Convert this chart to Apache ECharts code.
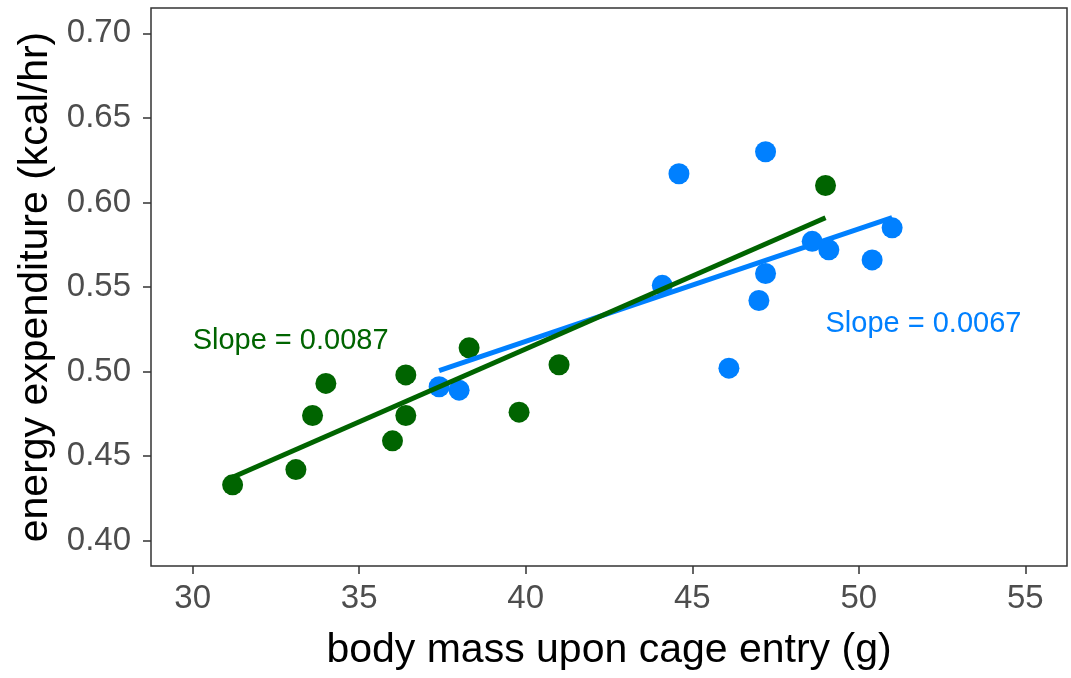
<!DOCTYPE html>
<html>
<head>
<meta charset="utf-8">
<script src="https://cdn.jsdelivr.net/npm/echarts@6/dist/echarts.min.js"></script>
<style>html,body{margin:0;padding:0;background:#fff}#c{width:1071px;height:678px}</style>
</head>
<body>
<div id="c"></div>
<script>
// ---- data ----
const greenX = [31.2, 33.1, 33.6, 34.0, 36.0, 36.4, 36.4, 38.3, 39.8, 41.0, 49.0];
const greenY = [0.433, 0.442, 0.474, 0.493, 0.459, 0.498, 0.474, 0.514, 0.476, 0.504, 0.610];
const blueX = [37.4, 38.0, 44.1, 44.6, 46.1, 47.0, 47.2, 47.2, 48.6, 49.1, 50.4, 51.0];
const blueY = [0.491, 0.489, 0.551, 0.617, 0.502, 0.542, 0.630, 0.558, 0.577, 0.572, 0.566, 0.585];
const greenFitX = [31.2, 49.0];
const greenFitY = [0.4375, 0.591];
const blueFitX = [37.4, 51.0];
const blueFitY = [0.5005, 0.591];
const xTicks = [30, 35, 40, 45, 50, 55];
const yTicks = [0.40, 0.45, 0.50, 0.55, 0.60, 0.65, 0.70];
const greenLabel = {x: 30, y: 0.518, text: 'Slope = 0.0087'};
const blueLabel = {x: 49, y: 0.528, text: 'Slope = 0.0067'};
const xTitle = 'body mass upon cage entry (g)';
const yTitle = 'energy expenditure (kcal/hr)';

const GREEN = '#006400', BLUE = '#0080ff';
const zip = (a, b) => a.map((v, i) => [v, b[i]]);
const FONT = 'Liberation Sans, Arial, Helvetica, sans-serif';

const chart = echarts.init(document.getElementById('c'), null, {renderer: 'canvas'});
chart.setOption({
  animation: false,
  backgroundColor: '#ffffff',
  grid: {left: 151, right: 4, top: 8, bottom: 112, show: true, borderColor: '#333333', borderWidth: 1.5, backgroundColor: 'transparent'},
  xAxis: {
    type: 'value', min: 28.75, max: 56.25,
    name: xTitle, nameLocation: 'middle', nameGap: 64,
    nameTextStyle: {fontFamily: FONT, fontSize: 41, color: '#000'},
    axisLine: {show: false},
    axisTick: {show: true, length: 8, lineStyle: {color: '#333333', width: 1.5}, customValues: xTicks},
    axisLabel: {customValues: xTicks, fontFamily: FONT, fontSize: 33, color: '#4d4d4d', margin: 16},
    splitLine: {show: false}
  },
  yAxis: {
    type: 'value', min: 0.385, max: 0.715,
    name: yTitle, nameLocation: 'middle', nameGap: 90, nameRotate: 90,
    nameTextStyle: {fontFamily: FONT, fontSize: 41, color: '#000'},
    axisLine: {show: false},
    axisTick: {show: true, length: 8, lineStyle: {color: '#333333', width: 1.5}, customValues: yTicks},
    axisLabel: {customValues: yTicks, formatter: v => v.toFixed(2), fontFamily: FONT, fontSize: 33, color: '#4d4d4d', margin: 20},
    splitLine: {show: false}
  },
  series: [
    {type: 'scatter', data: zip(blueX, blueY), symbolSize: 21, itemStyle: {color: BLUE, opacity: 1}, z: 2},
    {type: 'scatter', data: zip(greenX, greenY), symbolSize: 21, itemStyle: {color: GREEN, opacity: 1}, z: 2},
    {type: 'line', data: zip(blueFitX, blueFitY), showSymbol: false, lineStyle: {color: BLUE, width: 5}, z: 3},
    {type: 'line', data: zip(greenFitX, greenFitY), showSymbol: false, lineStyle: {color: GREEN, width: 5}, z: 4},
    {type: 'scatter', symbolSize: 0, z: 5, silent: true, itemStyle: {opacity: 1},
      data: [
        {value: [greenLabel.x, greenLabel.y], label: {show: true, formatter: greenLabel.text, color: GREEN}},
        {value: [blueLabel.x, blueLabel.y], label: {show: true, formatter: blueLabel.text, color: BLUE}}
      ],
      label: {position: 'right', distance: 0, fontFamily: FONT, fontSize: 29, align: 'left', verticalAlign: 'middle', opacity: 1}
    }
  ]
});
</script>
</body>
</html>
